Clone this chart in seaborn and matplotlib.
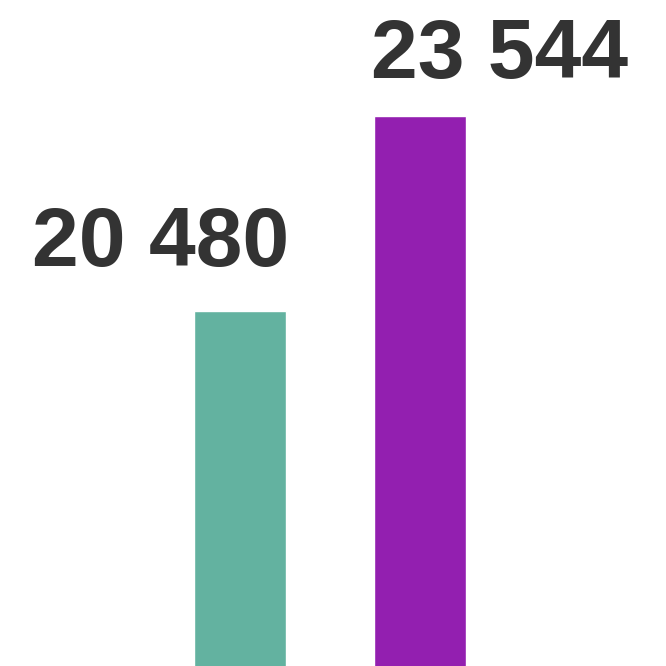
import matplotlib
matplotlib.use("Agg")
import matplotlib.pyplot as plt
import seaborn as sns
import pandas as pd

categories = ["A", "B"]
values = [20480, 23544]
colors = ["#63b2a0", "#931fb0"]

sns.set_style("white")
plt.rcParams["font.family"] = ["Liberation Sans", "DejaVu Sans"]

df = pd.DataFrame({"cat": categories, "val": values})

fig = plt.figure(figsize=(6.66, 6.66), dpi=100)
ax = fig.add_axes([0, 0, 1, 1])
sns.barplot(data=df, x="cat", y="val", hue="cat", palette=colors,
            order=categories, width=0.511, legend=False, ax=ax,
            saturation=1)

ax.set_xlim(-1.333, 2.367)
ax.set_ylim(14902, 25367)
ax.axis("off")

px = 72 / 100
# label offsets in pixels (dx, dy) from the anchored bar corner
offsets = [(3, 45), (-3, 38)]
for i, (patch, v) in enumerate(zip(ax.patches, values)):
    label = f"{v:,}".replace(",", " ")
    if i == 0:
        x, ha = patch.get_x() + patch.get_width(), "right"
    else:
        x, ha = patch.get_x(), "left"
    dx, dy = offsets[i]
    ax.annotate(label, (x, patch.get_height()), xytext=(dx * px, dy * px),
                textcoords="offset points", ha=ha, va="baseline",
                fontsize=60.5, fontweight="bold", color="#333333")

fig.savefig("out.png", dpi=100)
